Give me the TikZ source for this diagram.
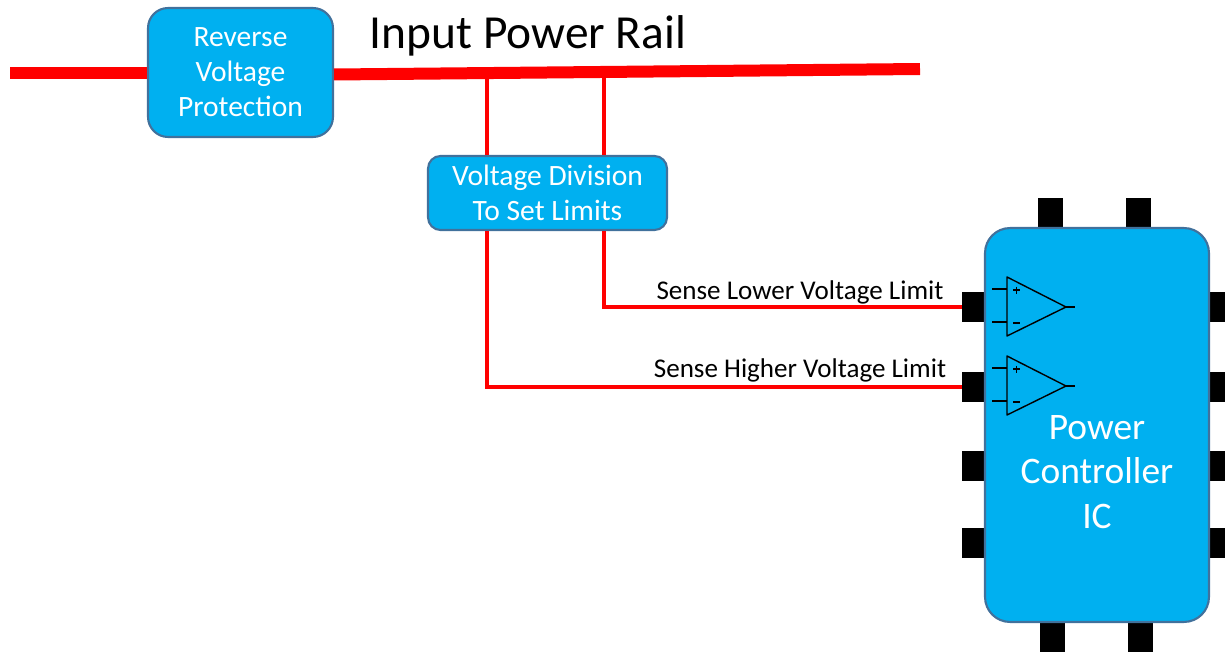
\documentclass[tikz,border=0pt]{standalone}
\usepackage{fontspec}
\setmainfont{Carlito}
\usetikzlibrary{positioning}

\definecolor{icblue}{HTML}{00B0F0}
\definecolor{icedge}{HTML}{41719C}
\definecolor{railred}{HTML}{FF0000}

\tikzset{
  blockbox/.style={draw=icedge, line width=1.2pt, fill=icblue, text=white,
    align=center, inner sep=0pt, font=\fontsize{16.8}{20}\selectfont},
  icpin/.style={fill=black, draw=none, inner sep=0pt},
  rail/.style={railred, line width=0.24cm},
  sense/.style={railred, line width=0.08cm},
  opamp/.style={line width=0.8pt, line join=round},
}

\begin{document}
\begin{tikzpicture}[x=0.02cm, y=-0.02cm]
\useasboundingbox (0,0) rectangle (1225,652);

% pins of the IC
\foreach \py/\pname in {307/L1, 387/L2, 466/L3, 543/L4} {
  \node[icpin, minimum width=0.66cm, minimum height=0.62cm] (pin\pname) at (978.5,\py) {};
  \node[icpin, minimum width=0.66cm, minimum height=0.62cm] at (1215,\py) {};
}
\foreach \px in {1050, 1138} {
  \node[icpin, minimum width=0.5cm, minimum height=0.74cm] at (\px,216) {};
  \node[icpin, minimum width=0.5cm, minimum height=0.8cm] at (\px+2,640) {};
}

% blocks
\node[blockbox, rounded corners=0.4cm, minimum width=3.7cm, minimum height=2.58cm] (rvp) at (240.5,72.5) {Reverse\\Voltage\\Protection};
\node[blockbox, rounded corners=0.25cm, minimum width=4.78cm, minimum height=1.48cm] (vdiv) at (547.5,193) {Voltage Division\\To Set Limits};
\node[blockbox, rounded corners=0.5cm, minimum width=4.48cm, minimum height=7.88cm] (ic) at (1097,425) {};
\node[text=white, align=center, font=\fontsize{21.3}{25.5}\selectfont] (ictext) at (1097,472) {Power\\Controller\\IC};

% input rail
\coordinate (railin) at (10,73);
\coordinate (railend) at (920,69);
\draw[rail] (railin) -- (rvp.west |- railin);
\draw[rail] (rvp.east |- 0,74.5) -- (railend);
\node[anchor=base, font=\fontsize{27}{32}\selectfont] (railtext) at (528,49) {Input Power Rail};

% taps to the divider
\coordinate (tapA) at (487,73);
\coordinate (tapB) at (604,72);
\draw[sense] (tapA) -- (tapA |- vdiv.north);
\draw[sense] (tapB) -- (tapB |- vdiv.north);

% sense lines
\draw[sense] (tapB |- vdiv.south) |- (pinL1.west);
\draw[sense] (tapA |- vdiv.south) |- (pinL2.west);
\node[anchor=base, font=\fontsize{15.4}{18}\selectfont] (lowtext) at (800,299) {Sense Lower Voltage Limit};
\node[anchor=base, font=\fontsize{15.4}{18}\selectfont] (hightext) at (800,377) {Sense Higher Voltage Limit};

% comparators
\foreach \oy in {307, 386} {
  \draw[opamp] (1007,\oy-30) -- (1066,\oy) -- (1007,\oy+29) -- cycle;
  \draw[opamp] (992,\oy-18) -- (1007,\oy-18);
  \draw[opamp] (992,\oy+15) -- (1007,\oy+15);
  \draw[opamp] (1066,\oy) -- (1075,\oy);
  \draw[line width=0.7pt] (1013,\oy-17) -- (1020,\oy-17) (1016.5,\oy-20.5) -- (1016.5,\oy-13.5);
  \draw[line width=0.7pt] (1013,\oy+16) -- (1020,\oy+16);
}

\end{tikzpicture}
\end{document}
